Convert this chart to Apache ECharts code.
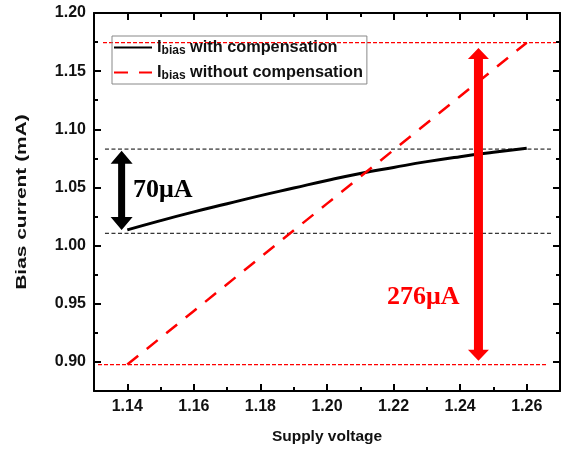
<!DOCTYPE html>
<html>
<head>
<meta charset="utf-8">
<script src="https://cdn.jsdelivr.net/npm/echarts@6/dist/echarts.min.js"></script>
<style>html,body{margin:0;padding:0;background:#fff;}#c{width:562px;height:451px;}</style>
</head>
<body>
<div id="c"></div>
<script>
// ---- data ----
const xWith = [1.14, 1.15, 1.16, 1.17, 1.18, 1.19, 1.20, 1.21, 1.22, 1.23, 1.24, 1.25, 1.26];
const ibiasWith = [1.0135, 1.0215, 1.0290, 1.0360, 1.0430, 1.0495, 1.0560, 1.0620, 1.0672, 1.0722, 1.0765, 1.0803, 1.0838];
const xWithout = [1.14, 1.16, 1.18, 1.20, 1.22, 1.24, 1.26];
const ibiasWithout = [0.8977, 0.9438, 0.9900, 1.0361, 1.0822, 1.1284, 1.1745];

const xMajorTicks = [1.14, 1.16, 1.18, 1.20, 1.22, 1.24, 1.26];
const xMinorTicks = [1.13, 1.15, 1.17, 1.19, 1.21, 1.23, 1.25, 1.27];
const yMajorTicks = [0.90, 0.95, 1.00, 1.05, 1.10, 1.15, 1.20];
const yMinorTicks = [0.925, 0.975, 1.025, 1.075, 1.125, 1.175];

// reference (dashed) lines: level, x start, x end
const refRedY = [1.1745, 0.8977];
const refRedX0 = [1.1327, 1.1312];
const refRedX1 = [1.2688, 1.2661];
const refBlackY = [1.0830, 1.0106];
const refBlackX0 = [1.1333, 1.1333];
const refBlackX1 = [1.2673, 1.2673];

// double arrows: x, top, bottom
const arrowX = [1.1383, 1.2455];
const arrowTop = [1.0815, 1.1700];
const arrowBottom = [1.0135, 0.9010];

// annotations
const noteText = ['70μA', '276μA'];
const noteX = [1.1417, 1.2180];
const noteY = [1.0478, 0.9558];

const seriesNames = ['with compensation', 'without compensation'];
const xTitle = 'Supply voltage';
const yTitle = 'Bias current (mA)';

// ---- chart ----
const chart = echarts.init(document.getElementById('c'), null, {renderer: 'canvas'});
const SANS = 'Liberation Sans, Arial, sans-serif';
const SERIF = 'Liberation Serif, Times New Roman, serif';

function xAx(pos, ticks, len, label, line) {
  return {
    type: 'value', position: pos, min: 1.13, max: 1.27,
    axisLine: {show: line, onZero: false, lineStyle: {color: '#000', width: 2}},
    axisTick: {show: true, inside: true, length: len, customValues: ticks, lineStyle: {color: '#000', width: 2}},
    axisLabel: label ? {show: true, customValues: ticks, margin: 8, color: '#111', fontFamily: SANS, fontWeight: 'bold', fontSize: 16,
      formatter: v => v.toFixed(2)} : {show: false},
    splitLine: {show: false}
  };
}
function yAx(pos, ticks, len, label, line) {
  return {
    type: 'value', position: pos, min: 0.875, max: 1.20,
    axisLine: {show: line, onZero: false, lineStyle: {color: '#000', width: 2}},
    axisTick: {show: true, inside: true, length: len, customValues: ticks, lineStyle: {color: '#000', width: 2}},
    axisLabel: label ? {show: true, customValues: ticks, margin: 8, color: '#111', fontFamily: SANS, fontWeight: 'bold', fontSize: 16,
      formatter: v => v.toFixed(2)} : {show: false},
    splitLine: {show: false}
  };
}

const xAxes = [xAx('bottom', xMajorTicks, 7, true, true), xAx('bottom', xMinorTicks, 4, false, false),
               xAx('top', xMajorTicks, 7, false, true), xAx('top', xMinorTicks, 4, false, false)];
xAxes[0].name = xTitle;
xAxes[0].nameLocation = 'middle';
xAxes[0].nameGap = 38;
xAxes[0].nameTextStyle = {fontFamily: SANS, fontWeight: 'bold', fontSize: 15.5, color: '#111'};
const yAxes = [yAx('left', yMajorTicks, 7, true, true), yAx('left', yMinorTicks, 4, false, false),
               yAx('right', yMajorTicks, 7, false, true), yAx('right', yMinorTicks, 4, false, false)];

const refSeries = [];
refRedY.forEach((y, i) => refSeries.push({
  type: 'line', silent: true, symbol: 'none', z: 1,
  data: [[refRedX0[i], y], [refRedX1[i], y]],
  lineStyle: {color: '#ff0000', width: 1.3, type: [4, 2]}
}));
refBlackY.forEach((y, i) => refSeries.push({
  type: 'line', silent: true, symbol: 'none', z: 1,
  data: [[refBlackX0[i], y], [refBlackX1[i], y]],
  lineStyle: {color: '#000', width: 1, type: [4, 2.5]}
}));

const arrowStyle = [
  {color: '#000', shaft: 7, headW: 22, headL: 13},
  {color: '#ff0000', shaft: 9, headW: 21, headL: 11}
];

const option = {
  backgroundColor: '#fff',
  animation: false,
  grid: {left: 94, right: 2, top: 13, bottom: 60, containLabel: false},
  xAxis: xAxes,
  yAxis: yAxes,
  graphic: [{
    type: 'text', x: 22, y: 202, rotation: Math.PI / 2, scaleX: 1.35,
    style: {text: yTitle, font: 'bold 15.5px ' + SANS, fill: '#111', align: 'center', verticalAlign: 'middle'}
  }],
  legend: {
    data: seriesNames,
    orient: 'vertical',
    left: 112, top: 36,
    padding: [3, 4, 2, 1],
    itemGap: 7,
    itemWidth: 38, itemHeight: 14,
    borderColor: '#888', borderWidth: 1,
    backgroundColor: 'transparent',
    itemStyle: {opacity: 0},
    formatter: name => '{i|I}{s|bias}{t| ' + name + '}',
    textStyle: {
      color: '#111',
      rich: {
        i: {fontFamily: SANS, fontWeight: 'bold', fontSize: 16.5, verticalAlign: 'bottom'},
        s: {fontFamily: SANS, fontWeight: 'bold', fontSize: 12, verticalAlign: 'bottom', padding: [0, 0, -1, 0]},
        t: {fontFamily: SANS, fontWeight: 'bold', fontSize: 16.3, verticalAlign: 'bottom'}
      }
    }
  },
  series: [
    ...refSeries,
    {
      name: seriesNames[0], type: 'line', symbol: 'none', smooth: true, z: 3,
      data: xWith.map((x, i) => [x, ibiasWith[i]]),
      itemStyle: {color: '#000'},
      lineStyle: {color: '#000', width: 3}
    },
    {
      name: seriesNames[1], type: 'line', symbol: 'none', z: 3,
      data: xWithout.map((x, i) => [x, ibiasWithout[i]]),
      itemStyle: {color: '#ff0000'},
      lineStyle: {color: '#ff0000', width: 2.5, type: [14, 11]}
    },
    {
      type: 'custom', z: 4, silent: true,
      data: arrowX.map((x, i) => [x, arrowTop[i], arrowBottom[i]]),
      renderItem: (params, api) => {
        const st = arrowStyle[params.dataIndex];
        const top = api.coord([api.value(0), api.value(1)]);
        const bot = api.coord([api.value(0), api.value(2)]);
        const cx = top[0], t = top[1], b = bot[1];
        const hs = st.shaft / 2, hw = st.headW / 2, hl = st.headL;
        const pts = [
          [cx, t], [cx + hw, t + hl], [cx + hs, t + hl], [cx + hs, b - hl], [cx + hw, b - hl],
          [cx, b], [cx - hw, b - hl], [cx - hs, b - hl], [cx - hs, t + hl], [cx - hw, t + hl]
        ];
        return {type: 'polygon', shape: {points: pts}, style: {fill: st.color}};
      }
    },
    {
      type: 'custom', z: 5, silent: true,
      data: noteX.map((x, i) => [x, noteY[i]]),
      renderItem: (params, api) => {
        const p = api.coord([api.value(0), api.value(1)]);
        const i = params.dataIndex;
        return {
          type: 'text', x: p[0], y: p[1],
          style: {
            text: noteText[i], fill: i === 0 ? '#000' : '#ff0000',
            font: 'bold 26px ' + SERIF, align: 'left', verticalAlign: 'middle'
          }
        };
      }
    }
  ]
};
chart.setOption(option);
</script>
</body>
</html>
